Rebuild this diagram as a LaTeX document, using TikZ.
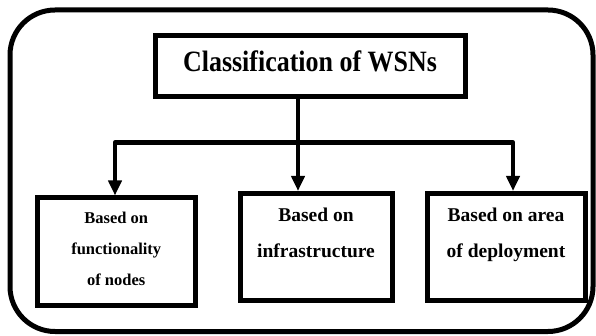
\documentclass[tikz,border=0pt]{standalone}
\usepackage{fontspec}
\setmainfont{Liberation Serif}
\newfontfamily\titlefont[FakeStretch=0.88]{Liberation Serif}
\usepackage{tikz}
\usetikzlibrary{arrows.meta, positioning}

% box text, pushed to the top of a fixed 107pt high box
\newcommand{\boxtext}[3]{\parbox[c][107pt][t]{#1}{\centering\rule{0pt}{#2}#3}}

\begin{document}
\begin{tikzpicture}[
  x=1pt, y=-1pt,
  catbox/.style={draw, line width=5pt, inner sep=0pt},
  conn/.style={line width=4.5pt, line join=round},
  >={Triangle[length=15pt, width=13pt]}
]
\useasboundingbox (0,0) rectangle (596,336);

% outer frame
\draw[line width=5pt, rounded corners=45pt] (10,10) rectangle (593,331.5);

% Top node
\node[catbox, minimum width=310pt, minimum height=61pt, text height=20pt, text depth=9pt,
  font=\fontsize{29.5}{34}\titlefont\bfseries] (title) at (310,66.5) {Classification of WSNs};

% Bottom row: build outward from the middle box
\node[catbox, font=\fontsize{19.5}{36}\selectfont\bfseries] (infra) at (316,247)
  {\boxtext{152pt}{28.5pt}{Based on\\infrastructure}};
\node[catbox, font=\fontsize{16.5}{31}\selectfont\bfseries, yshift=-4.5pt] (func) [left=40pt of infra]
  {\boxtext{157.5pt}{25.3pt}{Based on\\functionality\\of nodes}};
\node[catbox, font=\fontsize{19.5}{36}\selectfont\bfseries] (area) [right=30pt of infra]
  {\boxtext{158pt}{28.5pt}{Based on area\\of deployment}};

% connectors
\coordinate (split) at (298,142.5);
\coordinate (barL) at (115,142.5);
\coordinate (barR) at (513,142.5);

\draw[conn, ->] (title.south -| split) -- (split |- infra.north);
\draw[conn, ->] (split) -- (barL) -- (barL |- func.north);
\draw[conn, ->] (split) -- (barR) -- (barR |- area.north);
\end{tikzpicture}
\end{document}
